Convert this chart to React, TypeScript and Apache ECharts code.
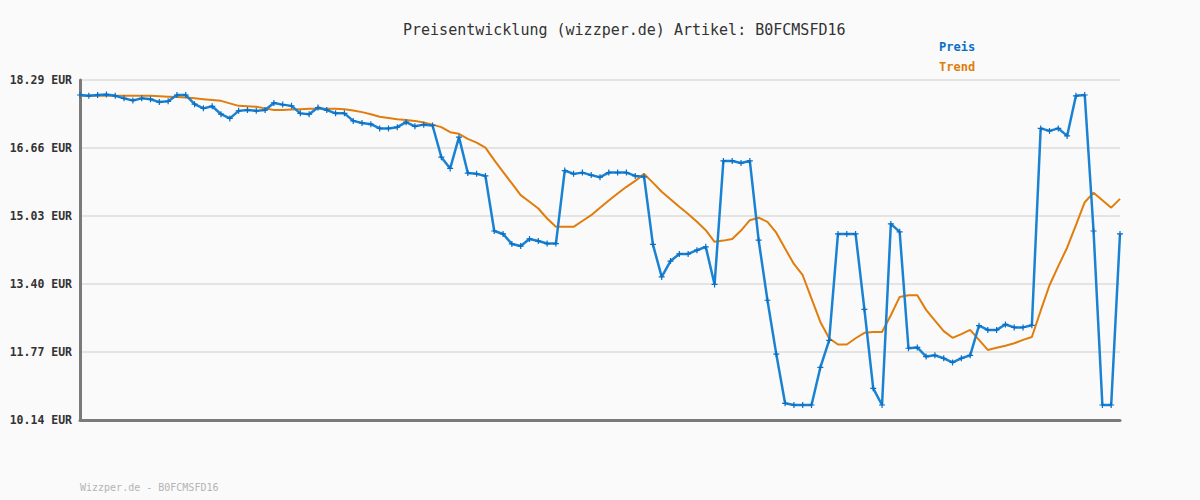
import React, { useEffect, useRef } from "react";
import * as echarts from "echarts";

const AXIS_MIN = 10.14;
const AXIS_MAX = 18.29;
const AXIS_STEP = 1.63;

const preis: number[] = [
  17.93, 17.91, 17.93, 17.94, 17.91, 17.85, 17.8, 17.85, 17.83, 17.76,
  17.78, 17.93, 17.93, 17.71, 17.61, 17.66, 17.47, 17.37, 17.55, 17.57,
  17.55, 17.57, 17.74, 17.7, 17.67, 17.49, 17.47, 17.63, 17.57, 17.49,
  17.49, 17.31, 17.26, 17.23, 17.13, 17.13, 17.16, 17.28, 17.18, 17.22,
  17.2, 16.44, 16.17, 16.92, 16.06, 16.04, 15.99, 14.67, 14.6, 14.36,
  14.31, 14.48, 14.43, 14.37, 14.37, 16.12, 16.04, 16.07, 16.01, 15.96,
  16.07, 16.07, 16.07, 15.99, 15.97, 14.35, 13.57, 13.95, 14.12, 14.12,
  14.21, 14.29, 13.39, 16.35, 16.35, 16.3, 16.35, 14.45, 13.01, 11.72,
  10.54, 10.5, 10.5, 10.5, 11.4, 12.05, 14.6, 14.6, 14.6, 12.79,
  10.9, 10.5, 14.84, 14.65, 11.86, 11.88, 11.66, 11.69, 11.62, 11.52,
  11.62, 11.69, 12.4, 12.3, 12.3, 12.43, 12.36, 12.36, 12.41, 17.13,
  17.07, 17.13, 16.95, 17.91, 17.93, 14.67, 10.5, 10.5, 14.6,
];

const trend: number[] = [
  17.91, 17.91, 17.91, 17.91, 17.91, 17.91, 17.91, 17.91, 17.91, 17.9,
  17.89, 17.88, 17.87, 17.85, 17.83, 17.81, 17.79, 17.73, 17.67, 17.66,
  17.65, 17.61, 17.57, 17.57, 17.58, 17.59, 17.6, 17.6, 17.6, 17.6,
  17.59, 17.56, 17.52, 17.47, 17.41, 17.38, 17.35, 17.33, 17.31, 17.27,
  17.22, 17.16, 17.04, 17.0, 16.88, 16.79, 16.67, 16.37, 16.09, 15.81,
  15.53, 15.37, 15.21, 14.97, 14.77, 14.77, 14.77, 14.91, 15.05, 15.23,
  15.4, 15.57, 15.73, 15.87, 16.04, 15.83, 15.61, 15.43, 15.25, 15.08,
  14.89, 14.69, 14.41, 14.44, 14.48, 14.68, 14.93, 14.99, 14.89, 14.63,
  14.25, 13.88, 13.61, 13.05, 12.49, 12.1, 11.95, 11.95, 12.1, 12.23,
  12.25, 12.25, 12.65, 13.09, 13.13, 13.13, 12.78, 12.52, 12.27, 12.11,
  12.2, 12.3, 12.06, 11.82, 11.87, 11.92, 11.98, 12.06, 12.13, 12.76,
  13.37, 13.83, 14.27, 14.81, 15.36, 15.59, 15.41, 15.23, 15.44,
];

const categories: string[] = preis.map((_, i) => String(i + 1));

const BLUE = "#1a82d2";
const BLUE_DARK = "#0a6ec4";
const ORANGE = "#e07d0c";
const MONO = "'DejaVu Sans Mono', 'Liberation Mono', monospace";

export default function App() {
  const ref = useRef<HTMLDivElement>(null);

  useEffect(() => {
    if (!ref.current) return;
    const chart = echarts.init(ref.current, undefined, { renderer: "svg" });
    chart.setOption({
      animation: false,
      backgroundColor: "#fafafa",
      title: {
        text: "Preisentwicklung (wizzper.de) Artikel: B0FCMSFD16",
        left: 398,
        top: 17,
        textStyle: {
          fontFamily: MONO,
          fontSize: 15,
          fontWeight: "normal",
          color: "#333333",
        },
      },
      legend: {
        orient: "vertical",
        left: 929,
        top: 35,
        icon: "none",
        itemWidth: 0,
        itemHeight: 14,
        itemGap: 7,
        selectedMode: false,
        data: [
          { name: "Preis", textStyle: { color: BLUE_DARK } },
          { name: "Trend", textStyle: { color: ORANGE } },
        ],
        textStyle: { fontFamily: MONO, fontSize: 12, fontWeight: "bold" },
      },
      graphic: [
        {
          type: "text",
          left: 80,
          top: 482,
          style: {
            text: "Wizzper.de - B0FCMSFD16",
            fontFamily: MONO,
            fontSize: 10,
            fill: "#b4b4b4",
          },
        },
      ],
      grid: { left: 80, right: 80, top: 80, bottom: 80, containLabel: false },
      xAxis: {
        type: "category",
        data: categories,
        boundaryGap: false,
        axisLine: { lineStyle: { color: "#7a7a7a", width: 3 } },
        axisTick: { show: false },
        axisLabel: { show: false },
        splitLine: { show: false },
      },
      yAxis: {
        type: "value",
        min: 0,
        max: +(AXIS_MAX - AXIS_MIN).toFixed(2),
        interval: AXIS_STEP,
        axisLine: { show: true, lineStyle: { color: "#7a7a7a", width: 3 } },
        axisTick: { show: false },
        axisLabel: {
          margin: 8,
          fontFamily: MONO,
          fontSize: 11.5,
          fontWeight: "bold",
          color: "#333333",
          formatter: (v: number) => (v + AXIS_MIN).toFixed(2) + " EUR",
        },
        splitLine: { lineStyle: { color: "#e4e4e4", width: 2 } },
      },
      series: [
        {
          name: "Preis",
          type: "line",
          data: preis.map((v) => +(v - AXIS_MIN).toFixed(3)),
          symbol: "path://M2 0H3V2H5V3H3V5H2V3H0V2H2Z",
          symbolSize: 6,
          showSymbol: true,
          showAllSymbol: true,
          itemStyle: { color: BLUE_DARK },
          lineStyle: { color: BLUE, width: 2.5 },
          z: 3,
        },
        {
          name: "Trend",
          type: "line",
          data: trend.map((v) => +(v - AXIS_MIN).toFixed(3)),
          symbol: "none",
          itemStyle: { color: ORANGE },
          lineStyle: { color: ORANGE, width: 2 },
          z: 2,
        },
      ],
    });
    return () => chart.dispose();
  }, []);

  return (
    <div
      ref={ref}
      style={{ position: "fixed", left: 0, top: 0, width: 1200, height: 500 }}
    />
  );
}
